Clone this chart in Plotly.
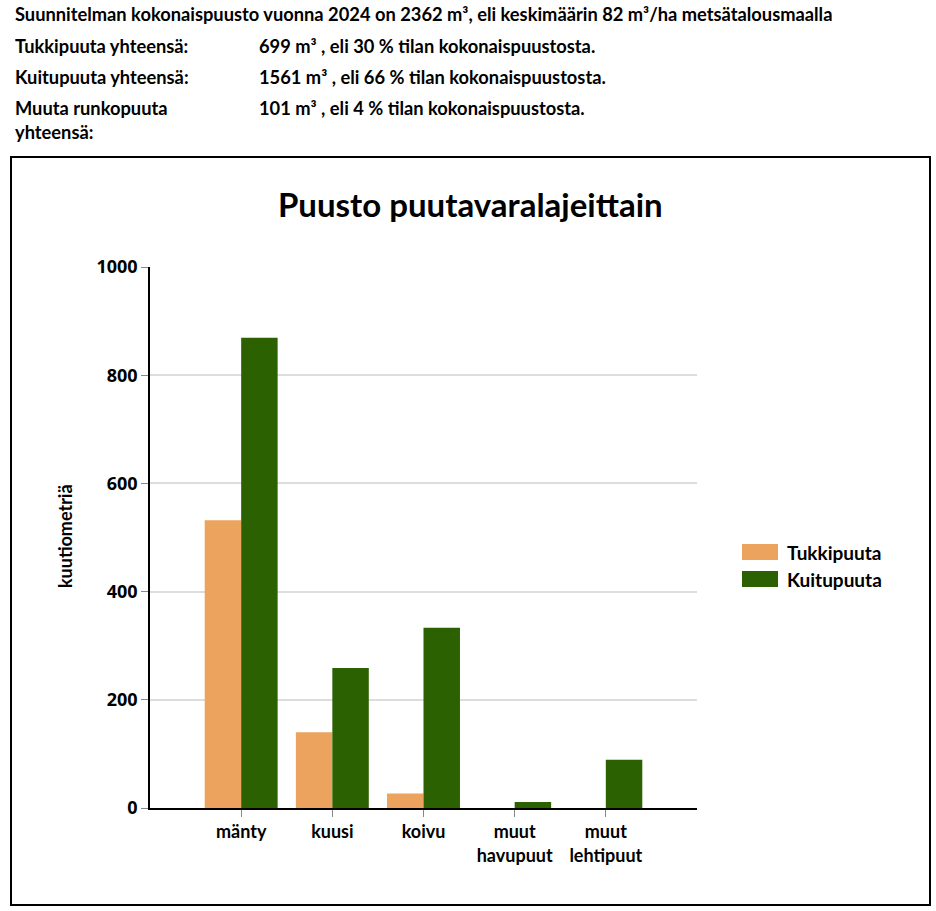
import plotly.graph_objects as go

categories = ["mänty", "kuusi", "koivu", "muut<br>havupuut", "muut<br>lehtipuut"]
series_names = ["Tukkipuuta", "Kuitupuuta"]
tukki = [532, 140, 27, 0, 0]
kuitu = [869, 259, 333, 11, 89]
colors = ["#ECA35D", "#2B6100"]
y_ticks = [0, 200, 400, 600, 800, 1000]

header_line = "Suunnitelman kokonaispuusto vuonna 2024 on 2362 m³, eli keskimäärin 82 m³/ha metsätalousmaalla"
rows = [
    ("Tukkipuuta yhteensä:", "699 m³ , eli 30 % tilan kokonaispuustosta."),
    ("Kuitupuuta yhteensä:", "1561 m³ , eli 66 % tilan kokonaispuustosta."),
    ("Muuta runkopuuta<br>yhteensä:", "101 m³ , eli 4 % tilan kokonaispuustosta."),
]

W, H = 936, 911
L, R, T, B = 150, 697, 267, 808
FONT = "Lato"
HF = 18.3


def px(x):
    return (x - L) / (R - L)


def py(y):
    return (B - y) / (B - T)


fig = go.Figure()
for name, vals, col in zip(series_names, [tukki, kuitu], colors):
    fig.add_trace(go.Bar(x=categories, y=vals, name=name, marker_color=col,
                         marker_line_width=0, showlegend=False))

annotations = []
shapes = []
# header
annotations.append(dict(text="<b>" + header_line + "</b>", x=px(13), y=py(14), xref="paper", yref="paper",
                        xanchor="left", yanchor="middle", showarrow=False,
                        font=dict(family=FONT, size=HF, color="black")))
row_y = [46, 77, 108]
for (lab, val), yy in zip(rows, row_y):
    annotations.append(dict(text="<b>" + lab + "</b>", x=px(13), y=py(yy - 13), xref="paper", yref="paper",
                            xanchor="left", yanchor="top", showarrow=False, align="left",
                            font=dict(family=FONT, size=HF, color="black")))
    annotations.append(dict(text="<b>" + val + "</b>", x=px(257), y=py(yy - 13), xref="paper", yref="paper",
                            xanchor="left", yanchor="top", showarrow=False, align="left",
                            font=dict(family=FONT, size=HF, color="black")))
# chart title
annotations.append(dict(text="<b>Puusto puutavaralajeittain</b>", x=px(470), y=py(204), xref="paper", yref="paper",
                        xanchor="center", yanchor="middle", showarrow=False,
                        font=dict(family=FONT, size=33, color="black")))
# y-axis title
annotations.append(dict(text="<b>kuutiometriä</b>", x=px(65), y=py(536), xref="paper", yref="paper",
                        xanchor="center", yanchor="middle", showarrow=False, textangle=-90,
                        font=dict(family=FONT, size=18, color="black")))
# legend
leg_y = [552, 579]
for name, col, yy in zip(series_names, colors, leg_y):
    shapes.append(dict(type="rect", xref="paper", yref="paper", x0=px(742), x1=px(778),
                       y0=py(yy + 8), y1=py(yy - 8), fillcolor=col, line=dict(width=0)))
    annotations.append(dict(text="<b>" + name + "</b>", x=px(785), y=py(yy), xref="paper", yref="paper",
                            xanchor="left", yanchor="middle", showarrow=False,
                            font=dict(family=FONT, size=19, color="black")))
# outer border
shapes.append(dict(type="rect", xref="paper", yref="paper", x0=px(11), x1=px(930), y0=py(905), y1=py(157),
                   line=dict(color="black", width=2), fillcolor="rgba(0,0,0,0)", layer="below"))

fig.update_layout(
    width=W, height=H,
    margin=dict(l=L, r=W - R, t=T, b=H - B, pad=0),
    paper_bgcolor="white", plot_bgcolor="white",
    barmode="group", bargap=0.2, bargroupgap=0,
    annotations=annotations, shapes=shapes,
    showlegend=False,
    font=dict(family=FONT, color="black"),
)
fig.update_xaxes(range=[-1, 5], showline=True, linecolor="black", linewidth=1.5,
                 ticks="outside", ticklen=7, tickcolor="#888",
                 tickfont=dict(family=FONT, size=18, color="black", weight="bold"), showgrid=False)
fig.update_yaxes(range=[0, 1000], tickvals=y_ticks, showline=True, linecolor="black", linewidth=1.5,
                 ticks="outside", ticklen=7, tickcolor="#888",
                 tickfont=dict(family="Open Sans", size=18, color="black", weight="bold"),
                 showgrid=True, gridcolor="#dddddd", gridwidth=1.5, zeroline=False)

fig.write_html("out.html")
